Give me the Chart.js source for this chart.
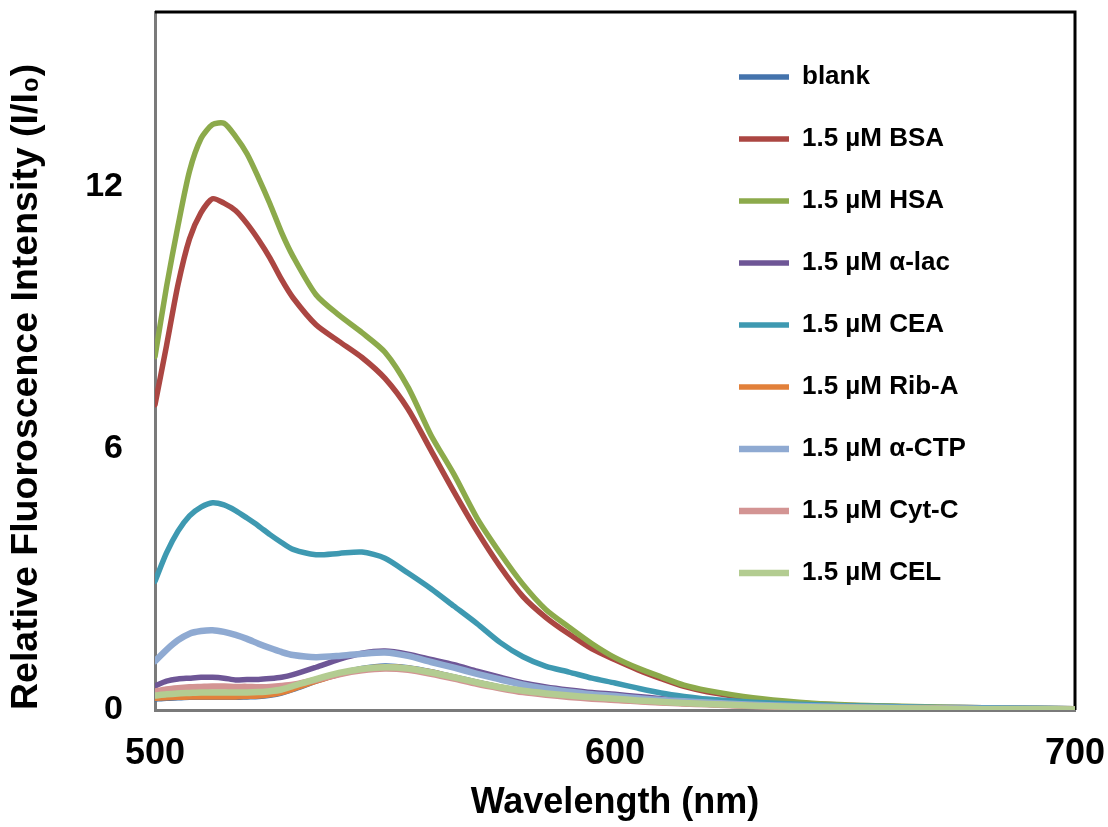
<!DOCTYPE html>
<html>
<head>
<meta charset="utf-8">
<script src="https://cdn.jsdelivr.net/npm/chart.js@4.4.1/dist/chart.umd.min.js"></script>
<style>
  html, body { margin: 0; padding: 0; background: #ffffff; }
  #wrap { width: 1108px; height: 827px; }
</style>
</head>
<body>
<div id="wrap"><canvas id="c" width="1108" height="827"></canvas></div>
<script>
// ---------- data ----------
const WAVELENGTH = [500, 502.5, 505, 507.5, 510, 512.5, 515, 517.5, 520, 522.5,
                    525, 527.5, 530, 535, 540, 545, 550, 555, 560, 565,
                    570, 575, 580, 585, 590, 595, 600, 605, 610, 615,
                    620, 630, 640, 650, 660, 670, 680, 690, 700];

const SERIES_LABELS = ["blank", "1.5 \u00b5M BSA", "1.5 \u00b5M HSA", "1.5 \u00b5M \u03b1-lac",
                       "1.5 \u00b5M CEA", "1.5 \u00b5M Rib-A", "1.5 \u00b5M \u03b1-CTP",
                       "1.5 \u00b5M Cyt-C", "1.5 \u00b5M CEL"];

const BLANK = [0.25, 0.27, 0.28, 0.29, 0.29, 0.29, 0.29, 0.29, 0.30, 0.31,
               0.34, 0.39, 0.47, 0.66, 0.83, 0.95, 1.01, 0.97, 0.88, 0.76,
               0.64, 0.53, 0.44, 0.37, 0.32, 0.28, 0.24, 0.21, 0.18, 0.15,
               0.13, 0.09, 0.07, 0.05, 0.04, 0.03, 0.02, 0.02, 0.01];
const BSA = [7.00, 8.35, 9.75, 10.80, 11.40, 11.72, 11.62, 11.45, 11.15, 10.78,
             10.36, 9.87, 9.45, 8.83, 8.45, 8.08, 7.60, 6.90, 5.95, 5.00,
             4.10, 3.29, 2.60, 2.12, 1.74, 1.40, 1.15, 0.92, 0.72, 0.54,
             0.42, 0.26, 0.16, 0.11, 0.08, 0.06, 0.05, 0.04, 0.03];
const HSA = [8.10, 9.70, 11.10, 12.35, 13.10, 13.42, 13.45, 13.15, 12.75, 12.20,
             11.60, 10.95, 10.40, 9.52, 9.05, 8.65, 8.20, 7.40, 6.30, 5.40,
             4.40, 3.60, 2.88, 2.30, 1.90, 1.52, 1.20, 0.96, 0.76, 0.57,
             0.45, 0.28, 0.18, 0.12, 0.09, 0.07, 0.05, 0.04, 0.03];
const ALAC = [0.55, 0.66, 0.71, 0.73, 0.75, 0.75, 0.73, 0.69, 0.70, 0.70,
              0.72, 0.75, 0.81, 0.98, 1.16, 1.30, 1.35, 1.28, 1.16, 1.04,
              0.89, 0.75, 0.62, 0.53, 0.46, 0.40, 0.36, 0.31, 0.26, 0.22,
              0.19, 0.13, 0.09, 0.07, 0.05, 0.04, 0.03, 0.03, 0.02];
const CEA = [2.95, 3.60, 4.10, 4.45, 4.65, 4.75, 4.70, 4.57, 4.40, 4.22,
             4.02, 3.84, 3.68, 3.56, 3.59, 3.62, 3.48, 3.14, 2.78, 2.38,
             1.98, 1.55, 1.22, 1.00, 0.87, 0.73, 0.62, 0.50, 0.39, 0.31,
             0.25, 0.18, 0.13, 0.10, 0.08, 0.06, 0.05, 0.04, 0.03];
const RIBA = [0.27, 0.28, 0.29, 0.30, 0.30, 0.30, 0.30, 0.30, 0.31, 0.32,
              0.35, 0.40, 0.48, 0.66, 0.82, 0.94, 0.99, 0.96, 0.87, 0.75,
              0.63, 0.52, 0.43, 0.36, 0.31, 0.27, 0.23, 0.20, 0.17, 0.15,
              0.13, 0.09, 0.07, 0.05, 0.04, 0.03, 0.02, 0.02, 0.01];
const ACTP = [1.12, 1.38, 1.60, 1.75, 1.81, 1.83, 1.79, 1.72, 1.63, 1.52,
              1.42, 1.33, 1.26, 1.21, 1.24, 1.29, 1.32, 1.24, 1.10, 0.97,
              0.83, 0.70, 0.58, 0.49, 0.42, 0.36, 0.32, 0.27, 0.23, 0.20,
              0.17, 0.12, 0.09, 0.07, 0.05, 0.04, 0.03, 0.03, 0.02];
const CYTC = [0.42, 0.47, 0.50, 0.52, 0.53, 0.54, 0.54, 0.53, 0.53, 0.52,
              0.53, 0.55, 0.58, 0.69, 0.82, 0.91, 0.95, 0.92, 0.83, 0.72,
              0.60, 0.50, 0.41, 0.35, 0.30, 0.26, 0.23, 0.20, 0.17, 0.15,
              0.13, 0.09, 0.06, 0.05, 0.04, 0.03, 0.02, 0.02, 0.01];
const CEL = [0.33, 0.36, 0.38, 0.39, 0.40, 0.40, 0.40, 0.40, 0.40, 0.41,
             0.43, 0.47, 0.55, 0.71, 0.85, 0.94, 0.98, 0.95, 0.86, 0.75,
             0.63, 0.52, 0.44, 0.38, 0.33, 0.29, 0.26, 0.22, 0.19, 0.16,
             0.14, 0.10, 0.07, 0.05, 0.04, 0.03, 0.02, 0.02, 0.01];

const SERIES_VALUES = [BLANK, BSA, HSA, ALAC, CEA, RIBA, ACTP, CYTC, CEL];
const SERIES_COLORS = ["#4473AC", "#AB4642", "#8CAA4B", "#6E5696", "#3E99B1",
                       "#E2803A", "#8FAAD2", "#D39493", "#B3CC91"];
const SERIES_WIDTHS = [5.5, 5.5, 5.5, 5.5, 5.5, 5.5, 6.5, 6.5, 6.5];

const X_TICKS = [500, 600, 700];
const Y_TICKS = [0, 6, 12];
const X_TITLE = "Wavelength (nm)";
const Y_TITLE = "Relative Fluoroscence Intensity (I/I\u2080)";

// ---------- chart ----------
const FONT = "'Liberation Sans', Arial, Helvetica, sans-serif";
Chart.defaults.font.family = FONT;
Chart.defaults.color = "#000";

const datasets = SERIES_LABELS.map((label, i) => ({
  label: label,
  data: WAVELENGTH.map((w, k) => ({ x: w, y: SERIES_VALUES[i][k] })),
  borderColor: SERIES_COLORS[i],
  backgroundColor: SERIES_COLORS[i],
  borderWidth: SERIES_WIDTHS[i],
  borderCapStyle: "round",
  borderJoinStyle: "round",
  pointRadius: 0,
  pointHoverRadius: 0,
  tension: 0.25,
  fill: false,
  order: SERIES_LABELS.length - i   // later series drawn on top
}));

const framePlugin = {
  id: "frame",
  beforeDatasetsDraw(chart) {
    const { ctx, chartArea: a } = chart;
    ctx.save();
    ctx.strokeStyle = "#000";
    ctx.lineWidth = 3;
    ctx.beginPath();
    ctx.moveTo(a.left, a.top);
    ctx.lineTo(a.right, a.top);
    ctx.lineTo(a.right, a.bottom);
    ctx.stroke();
    ctx.restore();
  }
};

const legendPlacement = {
  id: "legendPlacement",
  afterLayout(chart) {
    const lg = chart.legend;
    if (!lg) return;
    lg.left = 703;
    lg.top = 28;
    lg.right = lg.left + lg.width;
    lg.bottom = chart.chartArea.bottom;
    lg.height = lg.bottom - lg.top;
    if (lg.adjustHitBoxes) lg.adjustHitBoxes();
  }
};

new Chart(document.getElementById("c"), {
  type: "line",
  data: { datasets: datasets },
  plugins: [framePlugin, legendPlacement],
  options: {
    responsive: false,
    devicePixelRatio: 1,
    animation: false,
    layout: { padding: { left: 0, right: 33, top: 12, bottom: 0 } },
    plugins: {
      tooltip: { enabled: false },
      legend: {
        position: "chartArea",
        align: "start",
        labels: {
          usePointStyle: true,
          pointStyle: "line",
          pointStyleWidth: 50,
          font: { family: FONT, size: 26, weight: "bold" },
          color: "#000",
          padding: 36,
          sort: (a, b) => a.datasetIndex - b.datasetIndex
        }
      }
    },
    scales: {
      x: {
        type: "linear",
        min: 500,
        max: 700,
        afterBuildTicks: (s) => { s.ticks = X_TICKS.map(v => ({ value: v })); },
        afterFit: (s) => { s.height = 117; s.paddingLeft = 0; s.paddingRight = 0; },
        grid: { display: false, drawTicks: false },
        border: { display: true, color: "#7a7a7a", width: 3 },
        ticks: {
          font: { family: FONT, size: 36, weight: "bold" },
          color: "#000",
          padding: 22,
          maxRotation: 0
        },
        title: {
          display: true,
          text: X_TITLE,
          font: { family: FONT, size: 36, weight: "bold", lineHeight: 1.2 },
          color: "#000",
          padding: { top: 0, bottom: 2 }
        }
      },
      y: {
        type: "linear",
        min: 0,
        max: 16,
        afterBuildTicks: (s) => { s.ticks = Y_TICKS.map(v => ({ value: v })); },
        afterFit: (s) => { s.width = 155; s.paddingTop = 0; s.paddingBottom = 0; },
        grid: { display: false, drawTicks: false },
        border: { display: true, color: "#7a7a7a", width: 3 },
        ticks: {
          font: { family: FONT, size: 34, weight: "bold" },
          color: "#000",
          padding: 32
        },
        title: {
          display: true,
          text: Y_TITLE,
          align: "start",
          font: { family: FONT, size: 37.5, weight: "bold", lineHeight: 1.2 },
          color: "#000",
          padding: { top: 4, bottom: 0 }
        }
      }
    }
  }
});
</script>
</body>
</html>
